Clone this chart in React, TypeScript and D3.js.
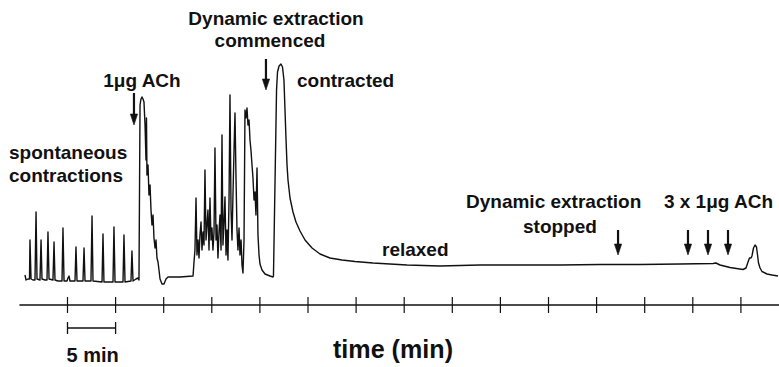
import { useRef, useEffect } from "react";
import * as d3 from "d3";

type Pt = [number, number];

// time (min), tension (a.u.)
const spontaneous: Pt[] = [
  [-4.42, 15], [-4.31, 10], [-4.11, 11], [-3.95, 11], [-3.9, 50], [-3.79, 11],
  [-3.59, 10], [-3.38, 10], [-3.27, 78], [-3.17, 11], [-2.86, 10], [-2.75, 50],
  [-2.65, 11], [-2.34, 10], [-2.13, 10], [-2.03, 58], [-1.92, 11], [-1.51, 10],
  [-1.4, 48], [-1.3, 10], [-0.99, 9], [-0.57, 9], [-0.47, 62], [-0.36, 9],
  [-0.05, 9], [0.05, 12], [0.16, 14], [0.26, 9], [0.78, 9], [0.88, 43],
  [0.99, 9], [1.61, 9], [1.72, 42], [1.82, 9], [2.44, 9], [2.55, 74],
  [2.65, 9], [3.59, 8], [3.69, 56], [3.79, 8], [4.73, 8], [4.83, 63],
  [4.94, 8], [5.77, 8], [5.87, 55], [5.98, 8], [6.6, 9], [6.7, 39],
  [6.81, 9], [7.12, 11], [7.33, 12],
];

const achResponse: Pt[] = [
  [7.43, 10], [7.54, 185], [7.64, 191], [7.74, 193], [7.85, 191], [7.95, 188],
  [8.06, 165], [8.16, 130], [8.21, 172], [8.26, 115], [8.37, 125], [8.47, 95],
  [8.58, 105], [8.68, 80], [8.78, 65], [8.89, 75], [8.99, 52], [9.1, 42],
  [9.2, 50], [9.3, 32], [9.41, 28], [9.51, 20], [9.62, 11], [9.82, 6],
  [10.03, 6], [10.24, 11], [10.45, 13], [11.69, 13], [13.05, 14],
];

const burst: Pt[] = [
  [13.15, 28], [13.25, 40], [13.36, 92], [13.46, 35], [13.57, 50], [13.67, 32],
  [13.77, 55], [13.88, 68], [13.98, 40], [14.09, 58], [14.19, 45], [14.29, 120],
  [14.4, 50], [14.5, 65], [14.6, 80], [14.71, 40], [14.81, 92], [14.92, 50],
  [15.02, 62], [15.12, 40], [15.23, 58], [15.33, 142], [15.44, 50], [15.54, 65],
  [15.64, 32], [15.75, 58], [15.85, 75], [15.96, 40], [16.06, 155], [16.16, 45],
  [16.27, 68], [16.37, 93], [16.48, 35], [16.58, 60], [16.68, 30], [16.79, 90],
  [16.89, 195], [17.0, 80], [17.1, 50], [17.2, 95], [17.31, 140], [17.41, 177],
  [17.52, 110], [17.62, 60], [17.72, 40], [17.83, 62], [17.93, 35], [18.04, 50],
  [18.14, 25], [18.24, 17], [18.35, 50], [18.45, 180], [18.55, 172], [18.66, 182],
  [18.76, 165], [18.87, 170], [18.97, 150], [19.07, 140], [19.18, 125], [19.28, 112],
  [19.39, 90], [19.49, 98], [19.59, 75], [19.7, 122], [19.8, 55], [19.91, 35],
  [20.01, 26], [20.22, 20], [20.53, 16], [21.05, 14], [21.36, 13],
];

const contraction: Pt[] = [
  [21.41, 14], [21.73, 200], [21.83, 218], [21.99, 224], [22.19, 226], [22.35, 223],
  [22.5, 210], [22.61, 180], [22.71, 152], [22.82, 125], [22.92, 110], [23.13, 92],
  [23.44, 78], [23.75, 68], [24.17, 59], [24.69, 50], [25.42, 42], [26.25, 36],
  [27.29, 32], [28.53, 30], [29.89, 28.5], [31.76, 27], [33.52, 26], [35.29, 25],
];

const relaxed: Pt[] = [
  [38.72, 24], [42.88, 25], [47.04, 25], [51.2, 25], [55.35, 25.5], [59.51, 25.5],
  [63.67, 26], [67.1, 26.5], [67.41, 27], [67.83, 25], [68.87, 22.5], [70.22, 20.5],
  [70.53, 22], [70.74, 28], [70.89, 32], [71.05, 32], [71.15, 34], [71.31, 42],
  [71.47, 45], [71.62, 43], [71.73, 35], [71.83, 27], [71.99, 22], [72.19, 18.5],
  [72.71, 16], [73.23, 15], [73.86, 14],
];

// drug / event markers: time, arrow top and tip (a.u.)
const arrows = [
  { t: 6.91, top: 197, tip: 165 },
  { t: 20.63, top: 231, tip: 200 },
  { t: 57.23, top: 60, tip: 35 },
  { t: 64.5, top: 60, tip: 35 },
  { t: 66.58, top: 60, tip: 35 },
  { t: 68.66, top: 60, tip: 35 },
];

const tickValues = [0, 5, 10, 15, 20, 25, 30, 35, 40, 45, 50, 55, 60, 65, 70];

const FONT = "'Liberation Sans', Arial, Helvetica, sans-serif";

export default function App() {
  const ref = useRef<SVGSVGElement>(null);

  useEffect(() => {
    const svg = d3.select(ref.current);
    svg.selectAll("*").remove();

    const width = 779;
    const axisY = 305;

    const x = d3.scaleLinear().domain([0, 70]).range([67.5, 740.9]);
    const y = d3.scaleLinear().domain([0, 230]).range([290, 60]);

    const trace = [...spontaneous, ...achResponse, ...burst, ...contraction, ...relaxed];

    const line = d3
      .line<Pt>()
      .x((d) => x(d[0]))
      .y((d) => y(d[1]));

    // trace
    svg
      .append("path")
      .datum(trace)
      .attr("d", line)
      .attr("fill", "none")
      .attr("stroke", "#111")
      .attr("stroke-width", 1.4)
      .attr("stroke-linejoin", "round");

    // time axis
    svg
      .append("line")
      .attr("x1", x(-5))
      .attr("x2", width)
      .attr("y1", axisY)
      .attr("y2", axisY)
      .attr("stroke", "#111")
      .attr("stroke-width", 1.4);

    svg
      .selectAll(".tick")
      .data(tickValues)
      .join("line")
      .attr("class", "tick")
      .attr("x1", (d) => x(d))
      .attr("x2", (d) => x(d))
      .attr("y1", axisY - 8)
      .attr("y2", axisY + 8)
      .attr("stroke", "#111")
      .attr("stroke-width", 1.2);

    // 5 min scale bar
    const barY = 328;
    const bar = svg.append("g").attr("stroke", "#111").attr("stroke-width", 1.3);
    bar.append("line").attr("x1", x(0)).attr("x2", x(5)).attr("y1", barY).attr("y2", barY);
    [0, 5].forEach((t) =>
      bar
        .append("line")
        .attr("x1", x(t))
        .attr("x2", x(t))
        .attr("y1", barY - 6)
        .attr("y2", barY + 6)
    );

    // arrows
    const ag = svg.append("g").attr("fill", "#111").attr("stroke", "#111");
    arrows.forEach((a) => {
      const ax = x(a.t);
      const yt = y(a.tip);
      ag.append("line")
        .attr("x1", ax)
        .attr("x2", ax)
        .attr("y1", y(a.top))
        .attr("y2", yt - 9)
        .attr("stroke-width", 2.2);
      ag.append("path")
        .attr("d", `M${ax - 3.6},${yt - 11}L${ax + 3.6},${yt - 11}L${ax},${yt}Z`)
        .attr("stroke-width", 0.6);
    });

    // labels
    const labels = [
      { text: "1μg ACh", x: 142, y: 87, anchor: "middle" },
      { text: "Dynamic extraction", x: 276, y: 25, anchor: "middle" },
      { text: "commenced", x: 270, y: 47, anchor: "middle" },
      { text: "contracted", x: 297, y: 87, anchor: "start" },
      { text: "spontaneous", x: 9, y: 159, anchor: "start" },
      { text: "contractions", x: 9, y: 182, anchor: "start" },
      { text: "relaxed", x: 382, y: 256, anchor: "start" },
      { text: "Dynamic extraction", x: 466, y: 208, anchor: "start" },
      { text: "stopped", x: 523, y: 233, anchor: "start" },
      { text: "3 x 1μg ACh", x: 773, y: 208, anchor: "end" },
    ];

    svg
      .selectAll(".label")
      .data(labels)
      .join("text")
      .attr("class", "label")
      .attr("x", (d) => d.x)
      .attr("y", (d) => d.y)
      .attr("text-anchor", (d) => d.anchor)
      .attr("font-family", FONT)
      .attr("font-weight", "bold")
      .attr("font-size", 19)
      .attr("fill", "#111")
      .text((d) => d.text);

    svg
      .append("text")
      .attr("x", x(0) - 1)
      .attr("y", 362)
      .attr("font-family", FONT)
      .attr("font-weight", "bold")
      .attr("font-size", 20)
      .attr("fill", "#111")
      .text("5 min");

    svg
      .append("text")
      .attr("x", 333)
      .attr("y", 358)
      .attr("font-family", FONT)
      .attr("font-weight", "bold")
      .attr("font-size", 25)
      .attr("textLength", 120)
      .attr("lengthAdjust", "spacingAndGlyphs")
      .attr("fill", "#111")
      .text("time (min)");
  }, []);

  return (
    <svg
      ref={ref}
      width={779}
      height={367}
      style={{ position: "absolute", left: 0, top: 0, background: "#fff" }}
    />
  );
}
